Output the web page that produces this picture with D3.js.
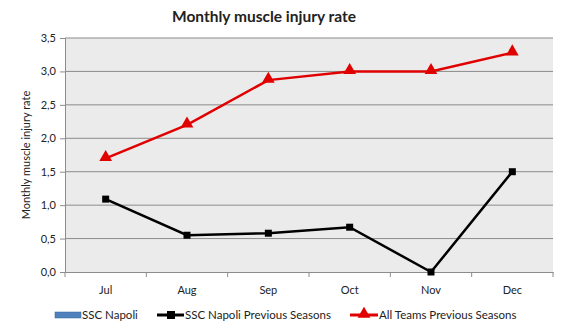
<html><head>
<meta charset="utf-8">
<script src="https://cdnjs.cloudflare.com/ajax/libs/d3/7.8.5/d3.min.js"></script>
<style>
  body { margin: 0; background: #fff; }
  text { font-family: Lato, "Open Sans", sans-serif; fill: #222; }
  .title { font-size: 15.5px; font-weight: bold; text-anchor: middle; }
  .tick text { font-size: 11px; }
  .legend text { font-size: 11.5px; }
</style>
</head><body>
<script>
// chart data
var months = ["Jul", "Aug", "Sep", "Oct", "Nov", "Dec"];
var napoliPrev = [1.09, 0.55, 0.58, 0.67, 0.0, 1.5];
var allTeamsPrev = [1.7, 2.2, 2.87, 3.0, 3.0, 3.28];
var napoli = []; // current season, no bars drawn
var yTicks = [0, 0.5, 1, 1.5, 2, 2.5, 3, 3.5];

var W = 566, H = 335;
var m = {left: 65, right: 13, top: 38, bottom: 63};

var svg = d3.select("body").append("svg")
    .attr("width", W).attr("height", H);

var x = d3.scaleBand().domain(months).range([m.left, W - m.right]);
var y = d3.scaleLinear().domain([0, 3.5]).range([H - m.bottom, m.top]);

var it = d3.formatLocale({decimal: ",", thousands: ".", grouping: [3], currency: ["", ""]});
var fmt = it.format(".1f");

// plot background
svg.append("rect")
    .attr("x", m.left).attr("y", m.top)
    .attr("width", W - m.left - m.right).attr("height", H - m.top - m.bottom)
    .attr("fill", "#ebebeb");

// gridlines
svg.append("g").selectAll("line").data(yTicks.slice(1)).join("line")
    .attr("x1", m.left).attr("x2", W - m.right)
    .attr("y1", function(d) { return y(d); }).attr("y2", function(d) { return y(d); })
    .attr("stroke", "#8c8c8c").attr("stroke-width", 1);

// y axis
var yAxis = svg.append("g")
    .attr("transform", "translate(" + m.left + ",0)")
    .call(d3.axisLeft(y).tickValues(yTicks).tickFormat(fmt).tickSize(5).tickPadding(4));
yAxis.select(".domain").attr("stroke", "#8c8c8c");
yAxis.selectAll(".tick line").attr("stroke", "#8c8c8c");

// x axis, ticks on category boundaries
var xAxis = svg.append("g")
    .attr("transform", "translate(0," + (H - m.bottom) + ")")
    .call(d3.axisBottom(x).tickSize(0).tickPadding(14));
xAxis.select(".domain").attr("stroke", "#8c8c8c");
xAxis.selectAll(".bound").data(months.concat(["end"])).join("line")
    .attr("x1", function(d, i) { return m.left + i * x.step(); })
    .attr("x2", function(d, i) { return m.left + i * x.step(); })
    .attr("y1", 0).attr("y2", 5)
    .attr("stroke", "#8c8c8c");

// y axis title
svg.append("text")
    .attr("transform", "translate(30," + ((m.top + H - m.bottom) / 2) + ") rotate(-90)")
    .attr("text-anchor", "middle")
    .style("font-size", "11px")
    .text("Monthly muscle injury rate");

// title
svg.append("text").attr("class", "title")
    .attr("x", 264).attr("y", 22)
    .text("Monthly muscle injury rate");

var cx = function(d, i) { return x(months[i]) + x.bandwidth() / 2; };
var line = d3.line().x(cx).y(function(d) { return y(d); });

// SSC Napoli previous seasons
svg.append("path").datum(napoliPrev)
    .attr("d", line).attr("fill", "none")
    .attr("stroke", "#000").attr("stroke-width", 2.5);
svg.append("g").selectAll("rect").data(napoliPrev).join("rect")
    .attr("x", function(d, i) { return cx(d, i) - 3.5; })
    .attr("y", function(d) { return y(d) - 3.5; })
    .attr("width", 7).attr("height", 7).attr("fill", "#000");

// All teams previous seasons
var tri = d3.symbol().type(d3.symbolTriangle).size(70);
svg.append("path").datum(allTeamsPrev)
    .attr("d", line).attr("fill", "none")
    .attr("stroke", "#e00000").attr("stroke-width", 2.5);
svg.append("g").selectAll("path").data(allTeamsPrev).join("path")
    .attr("d", tri)
    .attr("transform", function(d, i) { return "translate(" + cx(d, i) + "," + (y(d) - 1) + ")"; })
    .attr("fill", "#e00000");

// legend
var lg = svg.append("g").attr("class", "legend").attr("transform", "translate(0,315)");
lg.append("rect").attr("x", 55).attr("y", -3).attr("width", 26).attr("height", 6)
    .attr("fill", "#4f81bd").attr("stroke", "#3a6596").attr("stroke-width", 0.5);
lg.append("text").attr("x", 82).attr("y", 4).text("SSC Napoli");

lg.append("line").attr("x1", 157).attr("x2", 184).attr("y1", 0).attr("y2", 0)
    .attr("stroke", "#000").attr("stroke-width", 3);
lg.append("rect").attr("x", 167).attr("y", -4).attr("width", 8).attr("height", 8).attr("fill", "#000");
lg.append("text").attr("x", 185).attr("y", 4).text("SSC Napoli Previous Seasons");

lg.append("line").attr("x1", 350).attr("x2", 378).attr("y1", 0).attr("y2", 0)
    .attr("stroke", "#e00000").attr("stroke-width", 3);
lg.append("path").attr("d", tri).attr("transform", "translate(364,-1)").attr("fill", "#e00000");
lg.append("text").attr("x", 379).attr("y", 4).text("All Teams Previous Seasons");
</script>
</body></html>
